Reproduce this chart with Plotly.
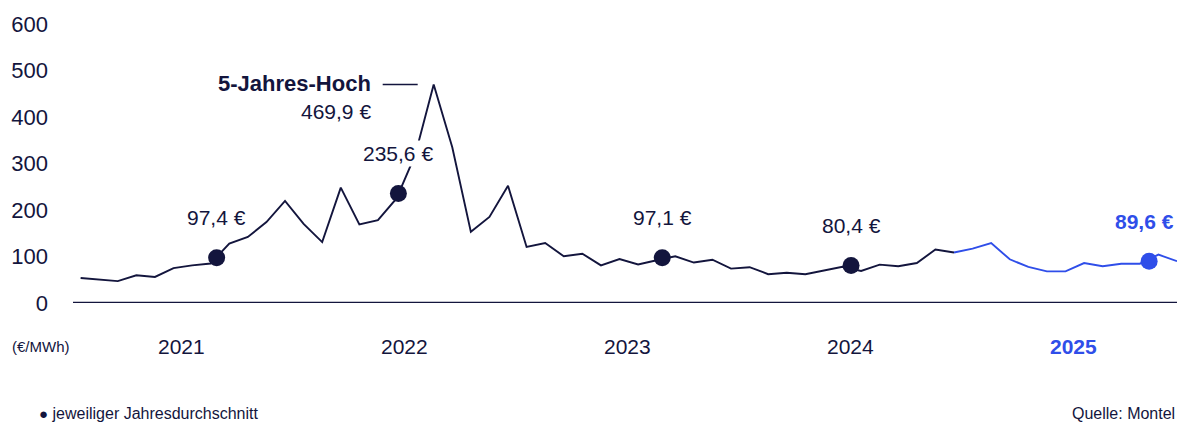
import plotly.graph_objects as go

# ---------------- data ----------------
months = [f"{y}-{m:02d}" for y in range(2021, 2026) for m in range(1, 13)]
prices = [
    53.8, 50.0, 47.0, 59.6, 56.0, 75.0, 81.0, 85.0, 128.0, 142.0, 174.0, 219.6,      # 2021
    170.0, 131.0, 248.0, 169.0, 178.0, 225.0, 318.0, 469.9, 335.0, 153.0, 185.0, 252.0,  # 2022
    120.6, 129.0, 100.5, 106.0, 81.0, 94.5, 83.0, 92.0, 100.5, 87.0, 93.0, 74.0,     # 2023
    77.0, 62.0, 65.0, 62.0, 70.0, 78.0, 69.0, 82.6, 79.0, 86.0, 115.0, 108.5,        # 2024
    117.0, 129.0, 94.0, 77.5, 68.0, 68.0, 86.0, 79.0, 84.5, 84.5, 104.0, 90.0,       # 2025
]
years = ["2021", "2022", "2023", "2024", "2025"]
year_avg = [97.4, 235.6, 97.1, 80.4, 89.6]
avg_month_pos = [7.32, 17.1, 31.3, 41.46, 57.5]   # month index where each average dot sits
avg_labels = ["97,4 €", "235,6 €", "97,1 €", "80,4 €", "89,6 €"]
peak_label = "469,9 €"
peak_title = "5-Jahres-Hoch"

NAVY = "#13153d"
BLUE = "#2f4ee9"
FONT = "Liberation Sans, Arial, sans-serif"

x = list(range(len(prices)))
split = months.index("2024-12")
peak_i = prices.index(max(prices))

fig = go.Figure()
fig.add_trace(go.Scatter(x=x[:split + 1], y=prices[:split + 1], mode="lines",
                         line=dict(color=NAVY, width=1.9), hoverinfo="skip"))
fig.add_trace(go.Scatter(x=x[split:], y=prices[split:], mode="lines",
                         line=dict(color=BLUE, width=1.9), hoverinfo="skip"))
dot_colors = [NAVY, NAVY, NAVY, NAVY, BLUE]
fig.add_trace(go.Scatter(x=avg_month_pos, y=year_avg, mode="markers",
                         marker=dict(size=17, color=dot_colors), hoverinfo="skip",
                         cliponaxis=False))

# average labels above dots
for i, (px, v, lab) in enumerate(zip(avg_month_pos, year_avg, avg_labels)):
    last = i == len(avg_labels) - 1
    fig.add_annotation(x=px, y=v, xref="x", yref="y", text=f"<b>{lab}</b>" if last else lab,
                       showarrow=False, yshift=40, xshift=-5 if last else 0,
                       font=dict(size=21, color=BLUE if last else NAVY, family=FONT),
                       bgcolor="white")

# peak annotation
fig.add_annotation(x=peak_i, y=max(prices), xref="x", yref="y", text=f"<b>{peak_title}</b>",
                   showarrow=False, xanchor="right", xshift=-61, yshift=1,
                   font=dict(size=22, color=NAVY, family=FONT))
fig.add_annotation(x=peak_i, y=max(prices), xref="x", yref="y", text=peak_label,
                   showarrow=False, xanchor="right", xshift=-61, yshift=-27,
                   font=dict(size=21, color=NAVY, family=FONT))
fig.add_shape(type="line", xref="x", yref="y", xsizemode="pixel", ysizemode="pixel",
              xanchor=peak_i, yanchor=max(prices), x0=-51, x1=-16, y0=0, y1=0,
              line=dict(color=NAVY, width=1.5))

# baseline
fig.add_shape(type="line", xref="paper", yref="y", x0=0, x1=1, y0=0, y1=0,
              line=dict(color=NAVY, width=2.5), layer="above")

# year labels
for k, yr in enumerate(years):
    last = k == len(years) - 1
    fig.add_annotation(x=12 * k + 5.45, y=-0.155, xref="x", yref="paper", yanchor="middle",
                       text=f"<b>{yr}</b>" if last else yr, showarrow=False,
                       font=dict(size=21, color=BLUE if last else NAVY, family=FONT))

fig.add_annotation(x=-63 / 1104, y=-0.155, xref="paper", yref="paper", text="(€/MWh)",
                   showarrow=False, xanchor="left", yanchor="middle",
                   font=dict(size=15, color=NAVY, family=FONT))
fig.add_annotation(x=-36 / 1104, y=-0.396, xref="paper", yref="paper", yanchor="middle",
                   text="<span style='font-size:15px'>●</span> jeweiliger Jahresdurchschnitt",
                   showarrow=False, xanchor="left",
                   font=dict(size=16, color=NAVY, family=FONT))
fig.add_annotation(x=1.0, y=-0.396, xref="paper", yref="paper", text="Quelle: Montel",
                   showarrow=False, xanchor="right", yanchor="middle",
                   font=dict(size=16, color=NAVY, family=FONT))

fig.update_layout(
    width=1184, height=423,
    margin=dict(l=73, r=7, t=24, b=120, autoexpand=False),
    paper_bgcolor="white", plot_bgcolor="white",
    showlegend=False,
    font=dict(family=FONT, color=NAVY),
    xaxis=dict(range=[-0.41, 59.0], showgrid=False, zeroline=False, showticklabels=False,
               ticks="", showline=False, fixedrange=True, automargin=False),
    yaxis=dict(range=[0, 600], tickvals=[0, 100, 200, 300, 400, 500, 600],
               showgrid=False, zeroline=False, showline=False, ticks="",
               ticklabelstandoff=24, automargin=False,
               tickfont=dict(size=22, color=NAVY, family=FONT), fixedrange=True),
)

fig.write_html("out.html", config={"displayModeBar": False},
               post_script="document.body.style.margin='0';document.body.style.overflow='hidden';")
